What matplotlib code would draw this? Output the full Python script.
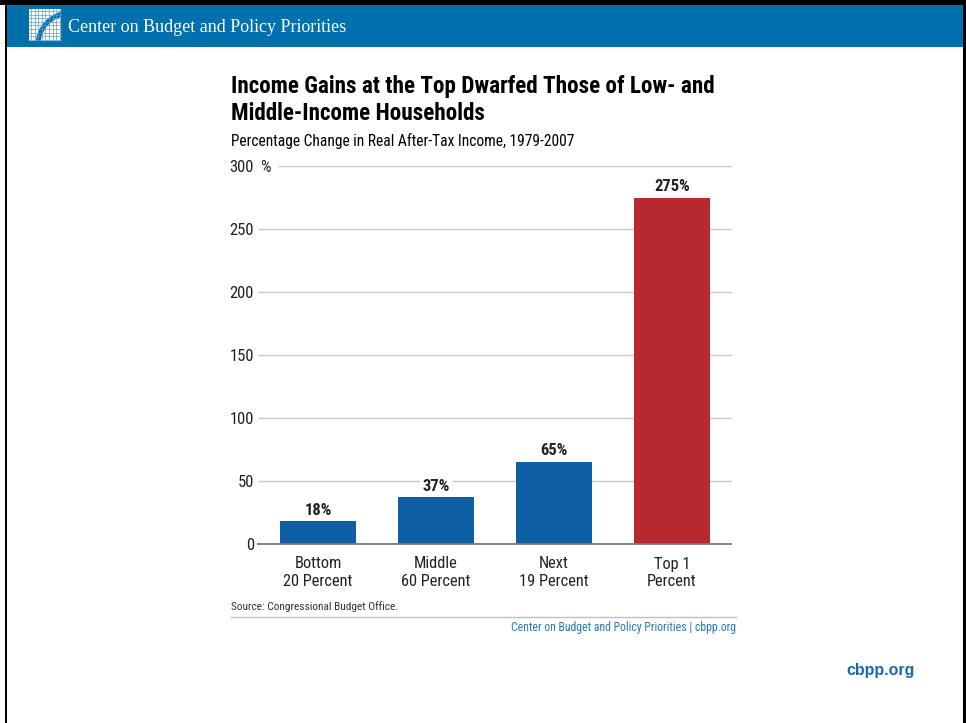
import numpy as np
import matplotlib.pyplot as plt
from matplotlib.patches import Rectangle, Arc

# data
groups = ['Bottom\n20 Percent', 'Middle\n60 Percent', 'Next\n19 Percent', 'Top 1\nPercent']
gains = [18, 37, 65, 275]
bar_colors = ['#0f5fa5', '#0f5fa5', '#0f5fa5', '#b8282f']
yticks = [0, 50, 100, 150, 200, 250, 300]
ytick_labels = ['0', '50', '100', '150', '200', '250', '300']

W, H = 966, 723
narrow = ['Roboto Condensed', 'DejaVu Sans']

fig = plt.figure(figsize=(W / 100, H / 100), dpi=100)
fig.patch.set_facecolor('white')
tr = fig.dpi_scale_trans


def P(x, y):
    # pixel coords (top-left origin) -> inches
    return x / 100, (H - y) / 100


def prect(x0, y0, x1, y1, **kw):
    r = Rectangle(P(x0, y1), (x1 - x0) / 100, (y1 - y0) / 100, transform=tr, **kw)
    fig.add_artist(r)
    return r


# frame and header band
prect(0, 0, W, 5, color='black', lw=0)
prect(5, 0, 7, H, color='black', lw=0)
prect(963, 0, W, H, color='black', lw=0)
prect(7, 5, 963, 47, color='#0071ad', lw=0)

# logo
logo = prect(29, 9, 61, 41, color='white', lw=0)
for g in np.arange(31, 61, 3.6):
    fig.add_artist(plt.Line2D([g / 100, g / 100], [(H - 9) / 100, (H - 41) / 100],
                              transform=tr, color='#5f9cc9', lw=0.5))
for g in np.arange(11, 41, 3.6):
    fig.add_artist(plt.Line2D([29 / 100, 61 / 100], [(H - g) / 100, (H - g) / 100],
                              transform=tr, color='#5f9cc9', lw=0.5))
arc = Arc(P(70, 45), 0.64, 0.64, theta1=90, theta2=180, transform=tr,
          color='#0071ad', lw=3.5)
fig.add_artist(arc)
arc.set_clip_path(logo)

fig.text(*P(68, 27), 'Center on Budget and Policy Priorities', transform=tr,
         color='white', fontsize=13, family=['Liberation Serif', 'DejaVu Serif'],
         ha='left', va='center')

# titles
fig.text(*P(231, 87), 'Income Gains at the Top Dwarfed Those of Low- and', transform=tr,
         fontsize=16.7, fontweight='bold', family=narrow, ha='left', va='center')
fig.text(*P(231, 113), 'Middle-Income Households', transform=tr,
         fontsize=16.7, fontweight='bold', family=narrow, ha='left', va='center')
fig.text(*P(231, 141), 'Percentage Change in Real After-Tax Income, 1979-2007', transform=tr,
         fontsize=11.2, family=narrow, ha='left', va='center')

# chart area
cx0, spacing = 318, 118
ax_l, ax_r = 258, 732
y0px, y300px = 544, 166
ax = fig.add_axes([ax_l / W, (H - y0px) / H, (ax_r - ax_l) / W, (y0px - y300px) / H])
xl = (ax_l - cx0) / spacing
xr = (ax_r - cx0) / spacing
ax.set_xlim(xl, xr)
ax.set_ylim(0, 300)

x = np.arange(len(groups))
ax.bar(x, gains, width=76 / spacing, color=bar_colors, zorder=3)

# gridlines
for t in yticks[1:-1]:
    ax.hlines(t, xl, xr, color='#c9c9c9', lw=1, zorder=1)
ax.hlines(300, (278 - cx0) / spacing, xr, color='#c9c9c9', lw=1, zorder=1)
ax.hlines(0, (257 - cx0) / spacing, xr, color='#7a7a7a', lw=1.3, zorder=4, clip_on=False)

for xi, v in zip(x, gains):
    ax.text(xi, v + 3, f'{v}%', ha='center', va='bottom', fontsize=12,
            fontweight='bold', family=narrow, color='#222222', zorder=5,
            bbox=dict(facecolor='white', edgecolor='none', pad=1.5))

ax.set_yticks(yticks)
ax.set_yticklabels(ytick_labels, family=narrow, fontsize=12, color='#222222')
ax.text((260 - cx0) / spacing, 300, '%', ha='left', va='center_baseline', fontsize=12,
        family=narrow, color='#222222')
ax.tick_params(axis='y', length=0, pad=3)
ax.set_xticks(x)
ax.set_xticklabels(groups, family=narrow, fontsize=11.8, color='#222222', linespacing=1.25)
ax.tick_params(axis='x', length=0, pad=9)
for s in ax.spines.values():
    s.set_visible(False)
ax.set_facecolor('none')

# footer
fig.text(*P(231, 607), 'Source: Congressional Budget Office.', transform=tr,
         fontsize=8.2, family=narrow, color='#333333', ha='left', va='center')
fig.add_artist(plt.Line2D([231 / 100, 736 / 100], [(H - 617) / 100, (H - 617) / 100],
                          transform=tr, color='#c0c0c0', lw=1))
fig.text(*P(736, 627), 'Center on Budget and Policy Priorities | cbpp.org', transform=tr,
         fontsize=8.5, family=narrow, color='#2a78b5', ha='right', va='center')

fig.text(*P(915, 670), 'cbpp.org', transform=tr, fontsize=11.5, fontweight='bold',
         family=['Liberation Sans', 'DejaVu Sans'], color='#1a68ad', ha='right', va='center')

fig.savefig('out.png', dpi=100)
